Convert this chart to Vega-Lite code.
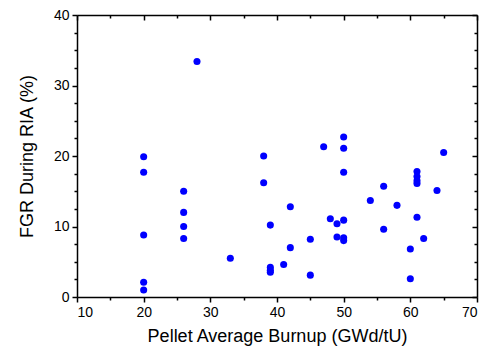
{
  "$schema": "https://vega.github.io/schema/vega-lite/v6.json",
  "width": 400,
  "height": 282,
  "autosize": {"type": "none"},
  "padding": {"left": 77, "top": 15, "right": 9, "bottom": 55},
  "background": "white",
  "config": {
    "view": {"stroke": null},
    "font": "Liberation Sans",
    "axis": {
      "grid": false,
      "domainColor": "black",
      "domainWidth": 1.5,
      "tickColor": "black",
      "tickWidth": 1.5,
      "labelFont": "Liberation Sans",
      "titleFont": "Liberation Sans",
      "labelColor": "black",
      "titleColor": "black",
      "labelFontSize": 14,
      "titleFontSize": 18,
      "titleFontWeight": "normal"
    }
  },
  "data": {
    "values": [
      {"burnup": 20, "fgr": 19.9}, {"burnup": 20, "fgr": 17.7}, {"burnup": 20, "fgr": 8.8}, {"burnup": 20, "fgr": 2.1}, {"burnup": 20, "fgr": 1.0},
      {"burnup": 26, "fgr": 15.0}, {"burnup": 26, "fgr": 12.0}, {"burnup": 26, "fgr": 10.0}, {"burnup": 26, "fgr": 8.3},
      {"burnup": 28, "fgr": 33.4},
      {"burnup": 33, "fgr": 5.5},
      {"burnup": 38, "fgr": 20.0}, {"burnup": 38, "fgr": 16.2},
      {"burnup": 39, "fgr": 10.2}, {"burnup": 39, "fgr": 4.2}, {"burnup": 39, "fgr": 3.8}, {"burnup": 39, "fgr": 3.5},
      {"burnup": 41, "fgr": 4.6},
      {"burnup": 42, "fgr": 12.8}, {"burnup": 42, "fgr": 7.0},
      {"burnup": 45, "fgr": 8.2}, {"burnup": 45, "fgr": 3.1},
      {"burnup": 47, "fgr": 21.3},
      {"burnup": 48, "fgr": 11.1},
      {"burnup": 49, "fgr": 10.4}, {"burnup": 49, "fgr": 8.5},
      {"burnup": 50, "fgr": 22.7}, {"burnup": 50, "fgr": 21.1}, {"burnup": 50, "fgr": 17.7}, {"burnup": 50, "fgr": 10.9}, {"burnup": 50, "fgr": 8.4}, {"burnup": 50, "fgr": 8.0},
      {"burnup": 54, "fgr": 13.7},
      {"burnup": 56, "fgr": 15.7}, {"burnup": 56, "fgr": 9.6},
      {"burnup": 58, "fgr": 13.0},
      {"burnup": 60, "fgr": 6.8}, {"burnup": 60, "fgr": 2.6},
      {"burnup": 61, "fgr": 17.8}, {"burnup": 61, "fgr": 17.1}, {"burnup": 61, "fgr": 16.5}, {"burnup": 61, "fgr": 16.1}, {"burnup": 61, "fgr": 11.3},
      {"burnup": 62, "fgr": 8.3},
      {"burnup": 64, "fgr": 15.1},
      {"burnup": 65, "fgr": 20.5}
    ]
  },
  "resolve": {"axis": {"x": "independent", "y": "independent"}},
  "layer": [
    {
      "mark": {"type": "point", "opacity": 0},
      "encoding": {
        "x": {"field": "burnup", "type": "quantitative", "scale": {"domain": [10, 70], "nice": false, "zero": false},
              "axis": {"orient": "top", "values": [15, 25, 35, 45, 55, 65], "labels": false, "title": null, "tickSize": -3, "domain": false}},
        "y": {"field": "fgr", "type": "quantitative", "scale": {"domain": [0, 40], "nice": false},
              "axis": {"orient": "right", "values": [2.5, 5, 7.5, 12.5, 15, 17.5, 22.5, 25, 27.5, 32.5, 35, 37.5], "labels": false, "title": null, "tickSize": -3, "domain": false}}
      }
    },
    {
      "mark": {"type": "point", "opacity": 0},
      "encoding": {
        "x": {"field": "burnup", "type": "quantitative",
              "axis": {"orient": "bottom", "values": [15, 25, 35, 45, 55, 65], "labels": false, "title": null, "tickSize": 3, "domain": false}},
        "y": {"field": "fgr", "type": "quantitative",
              "axis": {"orient": "left", "values": [2.5, 5, 7.5, 12.5, 15, 17.5, 22.5, 25, 27.5, 32.5, 35, 37.5], "labels": false, "title": null, "tickSize": 3, "domain": false}}
      }
    },
    {
      "mark": {"type": "point", "opacity": 0},
      "encoding": {
        "x": {"field": "burnup", "type": "quantitative",
              "axis": {"orient": "top", "values": [10, 20, 30, 40, 50, 60, 70], "labels": false, "title": null, "tickSize": -5}},
        "y": {"field": "fgr", "type": "quantitative",
              "axis": {"orient": "right", "values": [0, 10, 20, 30, 40], "labels": false, "title": null, "tickSize": -5}}
      }
    },
    {
      "mark": {"type": "circle", "color": "#0000ff", "opacity": 1, "size": 50},
      "encoding": {
        "x": {"field": "burnup", "type": "quantitative",
              "axis": {"orient": "bottom", "values": [10, 20, 30, 40, 50, 60, 70], "title": "Pellet Average Burnup (GWd/tU)", "tickSize": 5, "labelPadding": 3, "titlePadding": 8}},
        "y": {"field": "fgr", "type": "quantitative",
              "axis": {"orient": "left", "values": [0, 10, 20, 30, 40], "title": "FGR During RIA (%)", "tickSize": 5, "labelPadding": 3, "titlePadding": 17}}
      }
    }
  ]
}
